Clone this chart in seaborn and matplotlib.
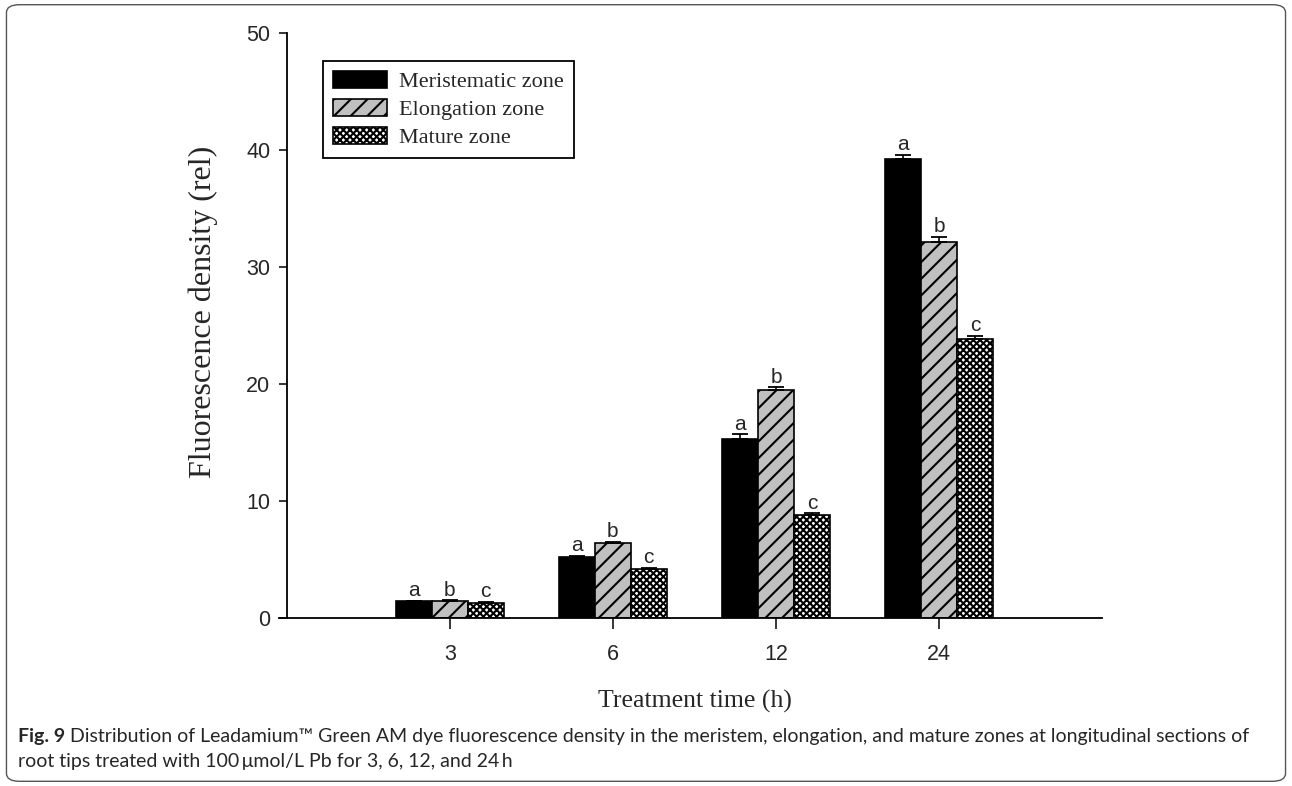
import matplotlib
matplotlib.use("Agg")
import matplotlib.pyplot as plt
import seaborn as sns
import pandas as pd
import numpy as np
from matplotlib.patches import Patch, FancyBboxPatch

times = ["3", "6", "12", "24"]
zones = ["Meristematic zone", "Elongation zone", "Mature zone"]
meristematic = [1.4, 5.2, 15.3, 39.2]
elongation = [1.45, 6.4, 19.5, 32.1]
mature = [1.3, 4.2, 8.8, 23.8]
err_meristematic = [0.05, 0.1, 0.4, 0.4]
err_elongation = [0.05, 0.1, 0.2, 0.5]
err_mature = [0.05, 0.1, 0.15, 0.3]
letters = ["a", "b", "c"]

sns.set_theme(style="ticks")
plt.rcParams["hatch.linewidth"] = 1.5

rows = []
for z, vals in zip(zones, [meristematic, elongation, mature]):
    for t, v in zip(times, vals):
        rows.append({"time": t, "zone": z, "value": v})
df = pd.DataFrame(rows)

fig = plt.figure(figsize=(12.92, 7.86), dpi=100)
ax = fig.add_axes([0.222, 0.214, 0.631, 0.744])

colors = ["#000000", "#c0c0c0", "#ffffff"]
hatches = [None, "//", "xxxxx"]
sns.barplot(data=df, x="time", y="value", hue="zone", order=times,
            hue_order=zones, palette=colors, width=0.66, errorbar=None,
            edgecolor="black", linewidth=1.2, ax=ax, legend=False)

errs = [err_meristematic, err_elongation, err_mature]
bar_conts = list(ax.containers)
for i, cont in enumerate(bar_conts):
    xs = [p.get_x() + p.get_width() / 2 for p in cont.patches]
    hs = [p.get_height() for p in cont.patches]
    for p in cont.patches:
        if hatches[i]:
            p.set_hatch(hatches[i])
    ax.errorbar(xs, hs, yerr=[np.zeros(len(hs)), errs[i]], fmt="none",
                ecolor="black", elinewidth=1.2, capsize=6, capthick=1.3)
    for x, h, e in zip(xs, hs, errs[i]):
        ax.text(x, h + e + 0.05, letters[i], ha="center", va="bottom",
                fontsize=15, family="Liberation Sans")

ax.set_xlim(-1, 4)
ax.set_ylim(0, 50)
ax.set_yticks([0, 10, 20, 30, 40, 50])
sns.despine(ax=ax)
for s in ["left", "bottom"]:
    ax.spines[s].set_linewidth(1.3)
    ax.spines[s].set_color("black")
ax.spines["bottom"].set_bounds(-1.05, 4)
ax.tick_params(axis="y", length=6, width=1.3, labelsize=15.5, pad=6)
ax.tick_params(axis="x", length=8, width=1.3, labelsize=15.5, pad=11)
for lab in ax.get_xticklabels() + ax.get_yticklabels():
    lab.set_family("Liberation Sans")
ax.set_xlabel("Treatment time (h)", fontsize=18.5, family="Liberation Serif", labelpad=18)
ax.set_ylabel("Fluorescence density (rel)", fontsize=23, family="Liberation Serif", labelpad=20)
ax.yaxis.label.set_y(0.523)

handles = [Patch(facecolor=c, edgecolor="black", hatch=h, linewidth=1.2)
           for c, h in zip(colors, hatches)]
leg = ax.legend(handles, zones, loc="upper left", bbox_to_anchor=(0.044, 0.952),
                borderaxespad=0, frameon=True, fancybox=False, edgecolor="black",
                framealpha=1, prop={"family": "Liberation Serif", "size": 16},
                handlelength=2.45, handleheight=0.8, handletextpad=0.55,
                borderpad=0.45, labelspacing=0.3)
leg.get_frame().set_linewidth(1.3)

border = FancyBboxPatch((0.005, 0.006), 0.99, 0.988, transform=fig.transFigure,
                        boxstyle="round,pad=0,rounding_size=0.01",
                        facecolor="none", edgecolor="#555555", linewidth=1.0)
fig.patches.append(border)

t1 = fig.text(0.014, 0.056, "Fig. 9", fontsize=14, fontweight="bold", family="Lato", va="baseline")
fig.canvas.draw()
bb = t1.get_window_extent(renderer=fig.canvas.get_renderer())
x_after = bb.x1 / fig.bbox.width + 0.004
fig.text(x_after, 0.056, "Distribution of Leadamium\u2122 Green AM dye fluorescence density in the meristem, elongation, and mature zones at longitudinal sections of",
         fontsize=14, family="Lato", va="baseline")
fig.text(0.014, 0.024, "root tips treated with 100\u2009\u03bcmol/L Pb for 3, 6, 12, and 24\u2009h",
         fontsize=14, family="Lato", va="baseline")

fig.savefig("out.png", dpi=100)
